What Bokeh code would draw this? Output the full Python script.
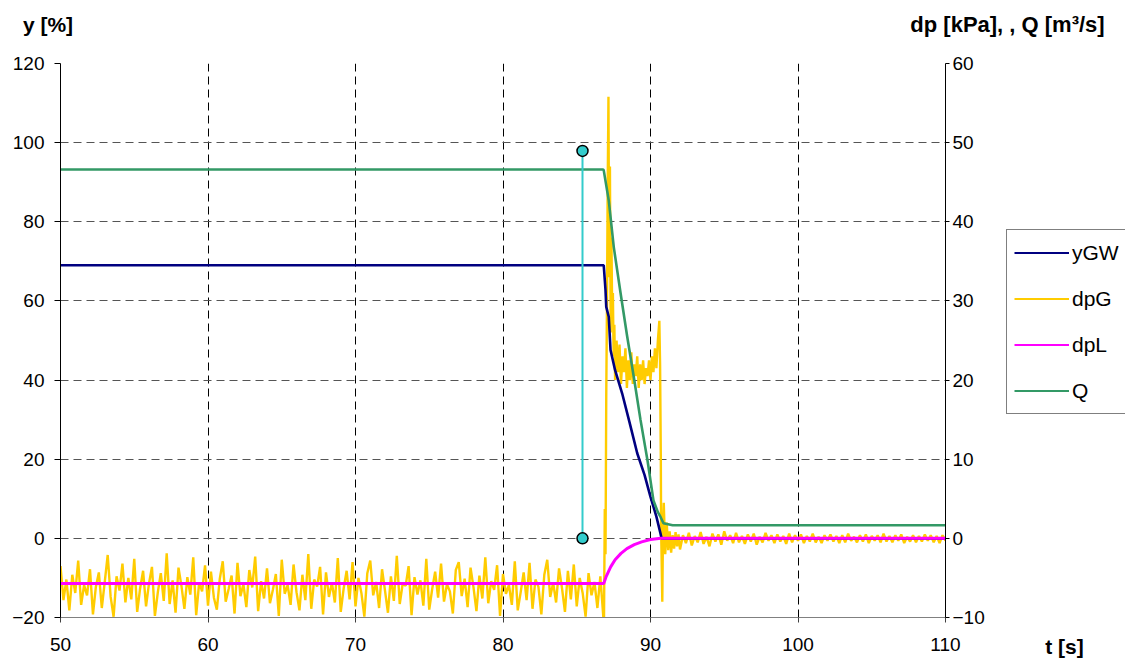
import numpy as np
from bokeh.plotting import figure
from bokeh.layouts import column, row
from bokeh.models import Range1d, LinearAxis, Legend, LegendItem, FixedTicker
from bokeh.core.properties import value
from bokeh.embed import file_html
from bokeh.resources import INLINE

FONT = "Liberation Sans"

# ---------------- data ----------------
# dpG [kPa] noisy phase before the closure (sampled every 0.2 s)
t_noise = np.round(np.arange(50.0, 86.81, 0.2), 2)
dpG_noise = [
    -3.5, -7.8, -5.2, -9.1, -4.6, -6.9, -2.8, -8.4, -5.9, -7.2,
    -3.9, -9.6, -6.1, -4.3, -8.8, -5.5, -2.1, -7.4, -9.9, -4.8,
    -6.6, -3.2, -8.1, -5.0, -7.7, -2.6, -9.3, -6.3, -4.1, -8.6,
    -5.7, -3.6, -9.8, -6.8, -4.4, -7.9, -1.9, -8.3, -5.3, -9.4,
    -3.7, -6.0, -8.9, -4.9, -7.1, -2.4, -9.7, -5.6, -6.7, -3.4,
    -8.5, -4.2, -7.5, -9.0, -5.1, -2.9, -8.0, -6.4, -4.7, -9.5,
    -3.1, -7.3, -5.8, -8.7, -4.0, -6.2, -2.3, -9.2, -5.4, -7.6,
    -3.8, -8.2, -6.5, -4.5, -9.8, -2.7, -7.0, -5.9, -8.4, -3.3,
    -6.8, -9.1, -4.6, -7.8, -2.0, -8.9, -5.2, -6.1, -3.6, -9.6,
    -4.3, -7.4, -5.6, -8.1, -2.5, -9.3, -6.3, -4.1, -7.7, -3.0,
    -8.6, -5.0, -6.9, -9.9, -4.4, -2.8, -7.2, -5.5, -8.8, -3.9,
    -6.6, -9.4, -4.8, -7.9, -2.2, -8.3, -5.7, -6.0, -3.5, -9.7,
    -4.9, -7.1, -5.3, -8.5, -2.6, -9.0, -6.4, -4.2, -7.5, -3.2,
    -8.0, -5.8, -6.7, -9.5, -4.0, -3.0, -7.3, -5.1, -8.7, -3.7,
    -6.2, -9.2, -4.7, -7.6, -2.4, -8.2, -5.4, -6.5, -3.4, -9.8,
    -4.5, -7.0, -5.9, -8.4, -2.9, -9.1, -6.8, -4.3, -7.8, -3.1,
    -8.9, -5.2, -6.1, -9.6, -4.6, -2.7, -7.4, -5.6, -8.1, -3.8,
    -6.3, -9.3, -4.1, -7.7, -3.3, -8.6, -5.0, -6.9, -9.9, -4.4,
    -7.2, -5.5, -8.8, -4.8, -9.9,
]
# dpG [kPa] during the closure
t_event = [86.85, 86.9, 86.95, 87.0, 87.05, 87.1, 87.15, 87.2, 87.25, 87.3,
           87.35, 87.4, 87.45, 87.5, 87.55, 87.6, 87.7, 87.8, 87.9, 88.0,
           88.1, 88.2, 88.3, 88.4, 88.5, 88.6, 88.7, 88.8, 88.9, 89.0,
           89.1, 89.2, 89.3, 89.4, 89.5, 89.6, 89.7, 89.8, 89.9, 90.0,
           90.1, 90.2, 90.3, 90.4, 90.5, 90.6, 90.65, 90.7, 90.72, 90.75,
           90.8, 90.85, 90.9, 91.0, 91.1, 91.2, 91.3, 91.4, 91.5, 91.6,
           91.7, 91.8, 91.9, 92.0]
dpG_event = [-10.0, 3.7, -2.0, 18.0, 30.0, 45.0, 55.8, 33.0, 47.0, 26.0,
             38.0, 29.0, 31.0, 23.0, 27.0, 20.0, 25.0, 21.0, 24.5, 19.5,
             23.0, 21.0, 24.0, 19.0, 22.5, 20.0, 23.5, 19.5, 22.0, 20.5,
             23.0, 19.0, 22.0, 20.0, 22.5, 19.5, 21.5, 20.5, 22.5, 20.0,
             23.0, 21.0, 24.0, 21.5, 25.0, 27.5, 22.0, 10.0, 1.0, -2.0,
             -8.0, 1.5, 4.5, -2.0, 2.0, -1.5, 0.9, -1.8, 0.4, -1.3,
             0.8, -1.0, 0.5, -1.4]
# dpG [kPa] after the closure (sampled every 0.2 s)
t_tail = np.round(np.arange(92.2, 110.01, 0.2), 2)
dpG_tail = [
    0.4, -0.6, 0.7, -0.9, 0.3, -0.5, 0.8, -0.7, 0.2, -1.0,
    0.6, -0.4, 0.5, -0.8, 0.9, -0.3, 0.4, -0.6, 0.7, -0.5,
    0.3, -0.7, 0.5, -0.4, 0.6, -0.8, 0.2, -0.5, 0.7, -0.3,
    0.4, -0.6, 0.5, -0.4, 0.3, -0.7, 0.6, -0.5, 0.4, -0.3,
    0.5, -0.6, 0.3, -0.4, 0.6, -0.5, 0.2, -0.6, 0.4, -0.3,
    0.5, -0.4, 0.3, -0.6, 0.4, -0.5, 0.6, -0.3, 0.2, -0.5,
    0.4, -0.4, 0.5, -0.6, 0.3, -0.3, 0.4, -0.5, 0.6, -0.4,
    0.3, -0.5, 0.4, -0.3, 0.5, -0.6, 0.2, -0.4, 0.4, -0.5,
    0.3, -0.4, 0.5, -0.3, 0.4, -0.5, 0.3, -0.6, 0.4, -0.3,
]

# yGW [%] (left axis)
yGW_t = [50.0, 86.83, 86.95, 87.0, 87.17, 87.29, 87.6, 88.08, 88.6, 89.1,
         89.6, 90.0, 90.4, 90.68, 90.75, 110.0]
yGW = [69.0, 69.0, 62.7, 58.5, 56.0, 47.6, 42.5, 36.6, 29.0, 21.5,
       16.0, 10.5, 5.5, 1.2, 0.0, 0.0]

# dpL [kPa] (right axis)
dpL_t = [50.0, 86.83, 87.0, 87.3, 87.6, 88.0, 88.4, 88.9, 89.4, 90.0, 90.7, 110.0]
dpL = [-5.7, -5.7, -4.8, -3.6, -2.7, -1.9, -1.3, -0.8, -0.45, -0.15, 0.0, 0.0]

# Q [m3/s] (right axis)
Q_t = [50.0, 86.79, 86.83, 87.17, 87.51, 87.97, 88.42, 88.9, 89.32, 89.8,
       90.2, 90.5, 90.68, 90.88, 91.5, 110.0]
Q = [46.6, 46.6, 46.5, 42.7, 36.8, 31.0, 25.5, 20.0, 15.0, 9.8,
     4.8, 3.3, 2.7, 1.9, 1.65, 1.65]

# cursor marker (left axis)
cursor_t = [85.39, 85.39]
cursor_y = [0.0, 97.9]

x_ticks = [50, 60, 70, 80, 90, 100, 110]
y_ticks = [-20, 0, 20, 40, 60, 80, 100, 120]
y2_ticks = [-10, 0, 10, 20, 30, 40, 50, 60]

series_names = ["yGW", "dpG", "dpL", "Q"]
series_colors = ["#000080", "#FFCC00", "#FF00FF", "#339966"]
title_left = "y [%]"
title_right = "dp [kPa], , Q [m\u00b3/s]"
title_x = "t [s]"

dpG_t = list(t_noise) + t_event + list(t_tail)
dpG = dpG_noise + dpG_event + dpG_tail

# ---------------- layout sizes (pixels) ----------------
W, H = 1125, 659
TOP_H = 45            # strip holding the axis titles
MAIN_W = 990          # plot with frame + both axes
SIDE_W = W - MAIN_W   # legend / "t [s]" strip
BODY_H = H - TOP_H


def blank(width, height):
    f = figure(width=width, height=height, x_range=Range1d(0, width), y_range=Range1d(0, height),
               x_axis_type=None, y_axis_type=None, output_backend="svg", toolbar_location=None,
               min_border=0, min_border_left=0, min_border_right=0,
               min_border_top=0, min_border_bottom=0)
    f.frame_align = False
    f.outline_line_color = None
    f.background_fill_color = "white"
    f.border_fill_color = "white"
    return f

# ---------------- title strip ----------------
top = blank(W, TOP_H)
top.text(x=[47.5], y=[TOP_H - 23.5], text=[title_left], text_font=value(FONT),
         text_font_style="bold", text_font_size="21px", text_align="center",
         text_baseline="middle", text_color="black")
top.text(x=[1007.0], y=[TOP_H - 23.5], text=[title_right], text_font=value(FONT),
         text_font_style="bold", text_font_size="22px", text_align="center",
         text_baseline="middle", text_color="black")

# ---------------- main plot ----------------
p = figure(width=MAIN_W, height=BODY_H, x_range=Range1d(50, 110), y_range=Range1d(-20, 120),
           output_backend="svg", toolbar_location=None,
           min_border_left=60, min_border_right=45, min_border_top=18, min_border_bottom=42)
p.frame_align = False
p.outline_line_color = None
p.background_fill_color = "white"
p.border_fill_color = "white"

p.xgrid.ticker = FixedTicker(ticks=x_ticks)
p.ygrid.ticker = FixedTicker(ticks=y_ticks)
p.xgrid.grid_line_color = "black"
p.xgrid.grid_line_dash = "8 5"
p.xgrid.grid_line_width = 1
p.ygrid.grid_line_color = "#555555"
p.ygrid.grid_line_dash = "8 5"
p.ygrid.grid_line_width = 1

xa = p.xaxis[0]
xa.ticker = FixedTicker(ticks=x_ticks)
xa.axis_line_color = "#808080"
xa.major_tick_line_color = "#404040"
xa.major_tick_out = 5
xa.major_tick_in = 0
xa.minor_tick_line_color = None
xa.major_label_standoff = 15
xa.major_label_text_font = FONT
xa.major_label_text_font_size = "19px"
xa.major_label_text_color = "black"

ya = p.yaxis[0]
ya.ticker = FixedTicker(ticks=y_ticks)
ya.axis_line_color = "black"
ya.major_tick_line_color = "black"
ya.major_tick_out = 6
ya.major_tick_in = 0
ya.minor_tick_line_color = None
ya.major_label_standoff = 10
ya.major_label_text_font = FONT
ya.major_label_text_font_size = "19px"
ya.major_label_text_color = "black"

p.extra_y_ranges = {"right": Range1d(-10, 60)}
ra = LinearAxis(y_range_name="right", ticker=FixedTicker(ticks=y2_ticks))
ra.axis_line_color = "black"
ra.major_tick_line_color = "black"
ra.major_tick_out = 4
ra.major_tick_in = 0
ra.minor_tick_line_color = None
ra.major_label_standoff = 3
ra.major_label_text_font = FONT
ra.major_label_text_font_size = "19px"
ra.major_label_text_color = "black"
p.add_layout(ra, "right")

p.line(dpG_t, dpG, y_range_name="right", line_color=series_colors[1], line_width=2.4)
p.line(yGW_t, yGW, line_color=series_colors[0], line_width=2.6)
p.line(dpL_t, dpL, y_range_name="right", line_color=series_colors[2], line_width=3)
p.line(Q_t, Q, y_range_name="right", line_color=series_colors[3], line_width=2.6)

p.line(cursor_t, cursor_y, line_color="#33CCCC", line_width=2)
p.scatter(cursor_t, cursor_y, size=11, fill_color="#33CCCC", line_color="black", line_width=1.5)

# ---------------- legend strip ----------------
side = blank(SIDE_W, BODY_H)
proxies = [side.line(x=[float("nan")], y=[float("nan")], line_color=c, line_width=2)
           for c in series_colors]
legend = Legend(items=[LegendItem(label=n, renderers=[r]) for n, r in zip(series_names, proxies)],
                location=(16, 244.7), orientation="vertical",
                border_line_color="black", border_line_width=1,
                background_fill_color="white", background_fill_alpha=1.0,
                glyph_width=55, glyph_height=31, label_height=31,
                label_standoff=3, spacing=15, padding=7, margin=0,
                label_text_font=FONT, label_text_font_size="21px",
                label_text_color="black")
side.add_layout(legend)
side.text(x=[74.0], y=[13.0], text=[title_x], text_font=value(FONT),
          text_font_style="bold", text_font_size="21px", text_align="center",
          text_baseline="middle", text_color="black")

layout = column(top, row(p, side))
open("out.html", "w").write(file_html(layout, INLINE))
